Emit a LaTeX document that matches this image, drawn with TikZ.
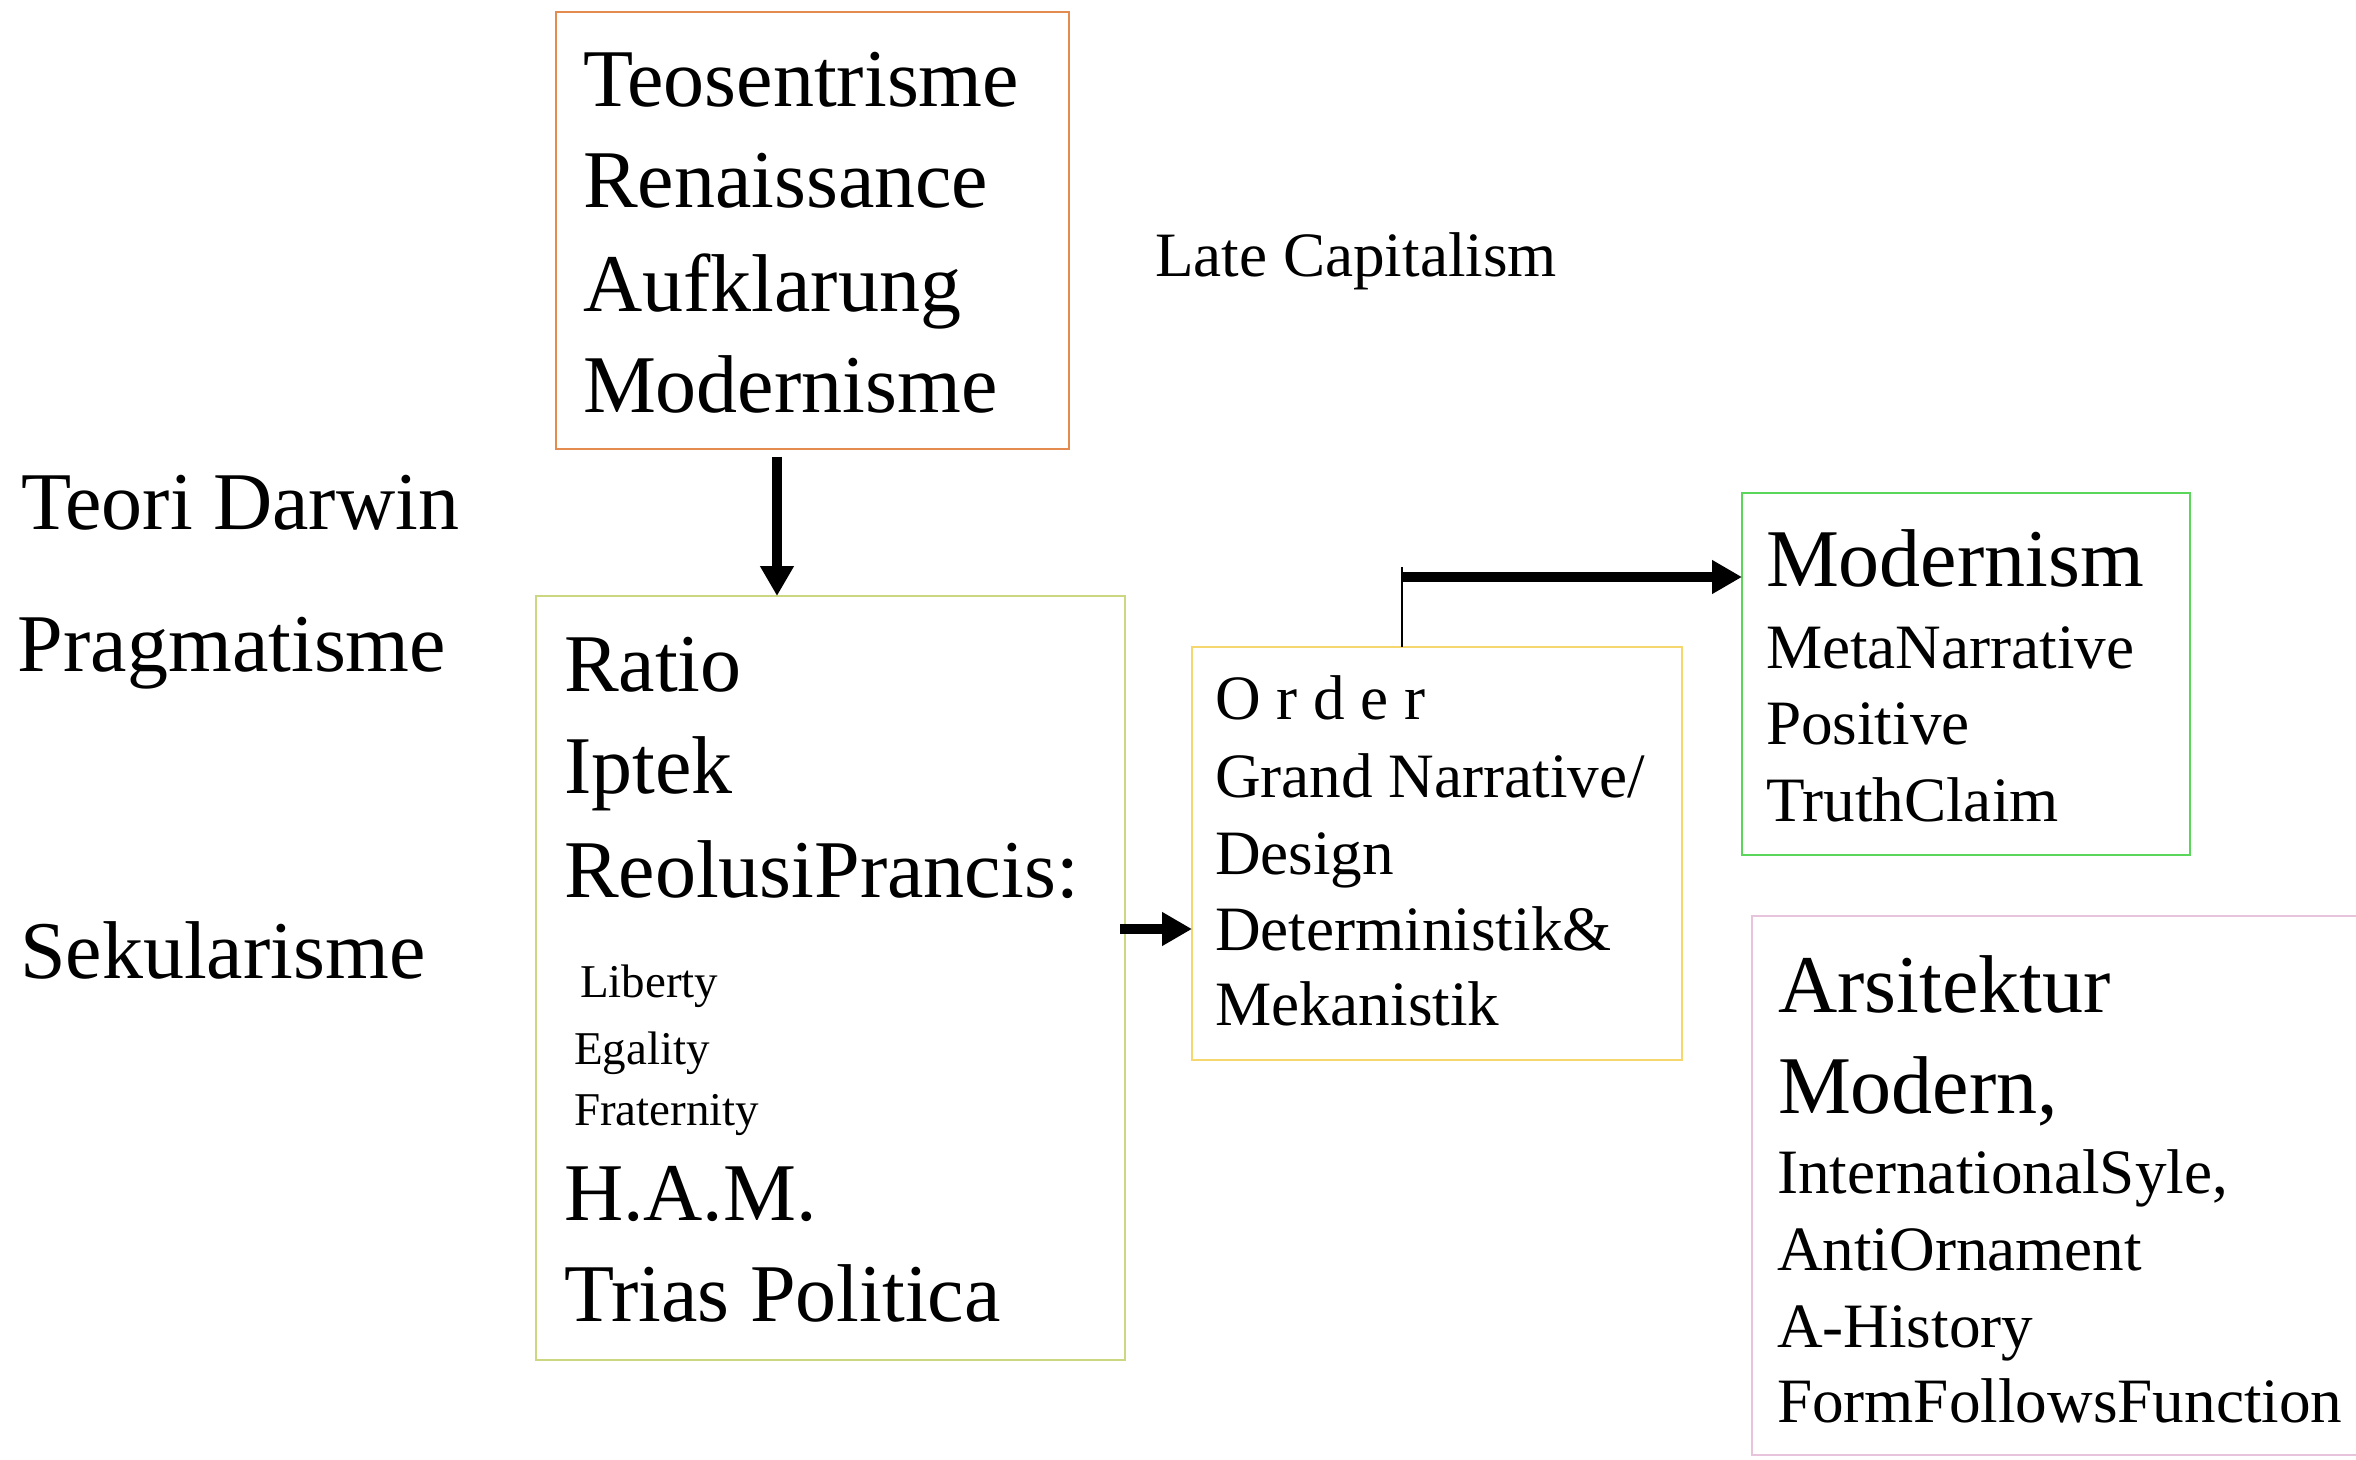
\documentclass[tikz,border=0pt]{standalone}
\usepackage{fontspec}
\setmainfont{Liberation Serif}
\usetikzlibrary{arrows.meta,calc}
\definecolor{cOrange}{RGB}{228,140,80}
\definecolor{cOlive}{RGB}{205,215,130}
\definecolor{cGold}{RGB}{245,215,110}
\definecolor{cGreen}{RGB}{90,215,90}
\definecolor{cPink}{RGB}{232,195,220}
\tikzset{
 box/.style={line width=1.3pt, inner sep=0pt, outer sep=0pt},
 lbl/.style={anchor=base west, inner sep=0pt, outer sep=0pt},
 big/.style={font=\fontsize{41}{49}\selectfont},
 mid/.style={font=\fontsize{31.6}{38}\selectfont},
 sml/.style={font=\fontsize{23.5}{28}\selectfont},
 arr/.style={line width=5pt, -{Triangle[width=16pt,length=15pt]}},
 thinline/.style={line width=1pt},
}
\begin{document}
\begin{tikzpicture}[x=0.5pt,y=-0.5pt]
\useasboundingbox (0,0) rectangle (2356,1460);

% boxes
\node[box, draw=cOrange, minimum width=256.5pt, minimum height=218.5pt] (b1) at (812.5,230.5) {};
\node[box, draw=cOlive, minimum width=294.5pt, minimum height=382pt] (b2) at (830.5,978) {};
\node[box, draw=cGold, minimum width=245pt, minimum height=206.5pt] (b3) at (1437,853.5) {};
\node[box, draw=cGreen, minimum width=224pt, minimum height=181pt] (b4) at (1966,674) {};
\node[box, draw=none, minimum width=302pt, minimum height=269.5pt] (b5) at (2054,1185.5) {};
\draw[line width=1.3pt, cPink] (b5.north east) -- (b5.north west) -- (b5.south west) -- (b5.south east);

% box 1 text
\node[lbl, big] (t11) at (583,107) {Teosentrisme};
\node[lbl, big] (t12) at (583,208) {Renaissance};
\node[lbl, big] (t13) at (583,312) {Aufklarung};
\node[lbl, big] (t14) at (583,413) {Modernisme};

% free labels
\node[lbl, mid] (late) at (1155,277) {Late Capitalism};
\node[lbl, big] (darwin) at (21,530) {Teori Darwin};
\node[lbl, big] (prag) at (18,671) {Pragmatisme};
\node[lbl, big] (sek) at (20,978) {Sekularisme};

% box 2 text
\node[lbl, big] (t21) at (564,691) {Ratio};
\node[lbl, big] (t22) at (564,793) {Iptek};
\node[lbl, big] (t23) at (564,897) {ReolusiPrancis:};
\node[lbl, sml] (t24) at (580,997) {Liberty};
\node[lbl, sml] (t25) at (574,1064) {Egality};
\node[lbl, sml] (t26) at (574,1125) {Fraternity};
\node[lbl, big] (t27) at (564,1220) {H.A.M.};
\node[lbl, big] (t28) at (564,1321) {Trias Politica};

% box 3 text
\node[lbl, mid] (t31) at (1215,719) {O r d e r};
\node[lbl, mid] (t32) at (1215,797) {Grand Narrative/};
\node[lbl, mid] (t33) at (1215,874) {Design};
\node[lbl, mid] (t34) at (1215,950) {Deterministik\&};
\node[lbl, mid] (t35) at (1215,1025) {Mekanistik};

% box 4 text
\node[lbl, big] (t41) at (1766,586) {Modernism};
\node[lbl, mid] (t42) at (1766,668) {MetaNarrative};
\node[lbl, mid] (t43) at (1766,744) {Positive};
\node[lbl, mid] (t44) at (1766,821) {TruthClaim};

% box 5 text
\node[lbl, big] (t51) at (1778,1012) {Arsitektur};
\node[lbl, big] (t52) at (1778,1113) {Modern,};
\node[lbl, mid] (t53) at (1777,1193) {InternationalSyle,};
\node[lbl, mid] (t54) at (1777,1270) {AntiOrnament};
\node[lbl, mid] (t55) at (1777,1347) {A-History};
\node[lbl, mid] (t56) at (1777,1422) {FormFollowsFunction};

% connectors
\draw[arr, shorten <=4pt] ($(b1.south)+(-35.5,0)$) -- ($(b2.north)+(-53.5,0)$);
\draw[arr] ($(b2.east)+(-5,-49)$) coordinate (p23) -- (p23 -| b3.west);
\coordinate (k34) at ($(b3.north)+(-35,-70)$);
\draw[thinline] ($(b3.north)+(-35,0)$) -- ($(k34)+(0,-10)$);
\draw[arr] (k34) -- (k34 -| b4.west);
\end{tikzpicture}
\end{document}
